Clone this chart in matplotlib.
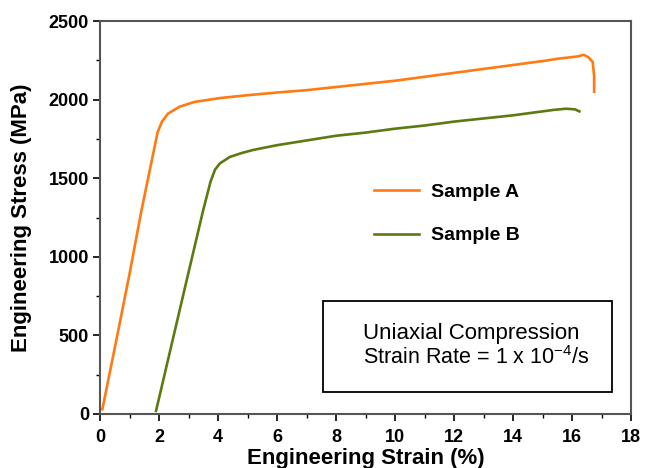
import matplotlib.pyplot as plt
from matplotlib.ticker import MultipleLocator
from matplotlib.patches import Rectangle

plt.rcParams['font.family'] = ['Liberation Sans', 'DejaVu Sans']
plt.rcParams['mathtext.fontset'] = 'custom'
plt.rcParams['mathtext.rm'] = 'Liberation Sans'

# strain (%) and stress (MPa)
strain_a = [0.08, 0.5, 1.0, 1.4, 1.95, 2.1, 2.3, 2.7, 3.2, 4.07, 5.0,
            6.0, 7.0, 8.0, 9.0, 10.0, 11.0, 12.0, 13.0, 14.0, 15.0, 15.6, 15.9, 16.2,
            16.4, 16.55, 16.7, 16.75, 16.75]
stress_a = [30, 420, 890, 1290, 1790, 1860, 1910, 1955, 1985, 2010, 2028,
            2045, 2060, 2080, 2100, 2120, 2145, 2170, 2195, 2220, 2245, 2262, 2268, 2275,
            2285, 2270, 2240, 2150, 2050]

strain_b = [1.9, 2.5, 3.0, 3.5, 3.75, 3.9, 4.07, 4.4, 4.8, 5.2, 6.0, 7.0, 8.0, 9.0,
            10.0, 11.0, 12.0, 13.0, 14.0, 14.8, 15.4, 15.8, 16.1, 16.25]
stress_b = [20, 500, 900, 1298, 1480, 1555, 1595, 1635, 1660, 1680, 1710, 1740, 1770, 1790,
            1815, 1835, 1860, 1880, 1900, 1920, 1935, 1942, 1938, 1925]

labels = ['Sample A', 'Sample B']
colors = ['#ff7a12', '#5b7a10']

fig = plt.figure(figsize=(6.47, 4.68), dpi=100)
ax = fig.add_axes([100 / 647, 1 - 414 / 468, 531 / 647, 393 / 468])

ax.plot(strain_a, stress_a, color=colors[0], lw=1.9, label=labels[0])
ax.plot(strain_b, stress_b, color=colors[1], lw=1.9, label=labels[1])

ax.set_xlim(0, 18)
ax.set_ylim(0, 2500)
ax.xaxis.set_major_locator(MultipleLocator(2))
ax.xaxis.set_minor_locator(MultipleLocator(1))
ax.yaxis.set_major_locator(MultipleLocator(500))
ax.yaxis.set_minor_locator(MultipleLocator(250))
ax.tick_params(which='major', direction='out', length=5, width=1.2, labelsize=13, pad=3)
ax.tick_params(axis='x', which='major', pad=6)
ax.tick_params(which='minor', direction='out', length=3, width=1)
for lab in ax.get_xticklabels() + ax.get_yticklabels():
    lab.set_fontweight('bold')
for s in ax.spines.values():
    s.set_color('#555555')
    s.set_linewidth(1.5)

ax.set_xlabel('Engineering Strain (%)', fontsize=16, fontweight='bold', labelpad=1)
ax.set_ylabel('Engineering Stress (MPa)', fontsize=16, fontweight='bold', labelpad=12)

leg = ax.legend(loc='upper left', bbox_to_anchor=(8.71 / 18, 1578 / 2500), frameon=False,
                handlelength=2.3, handletextpad=0.6, labelspacing=1.32,
                prop={'weight': 'bold', 'size': 14})

ax.add_patch(Rectangle((7.55, 142), 9.8, 579, fill=False, ec='black', lw=1.3))
ax.text(8.93, 515, 'Uniaxial Compression', ha='left', va='center', fontsize=16)
ax.text(8.93, 356, r'Strain Rate = 1 x 10$\mathregular{^{-4}}$/s', ha='left', va='center', fontsize=15.5)

fig.savefig('out.png', dpi=100)
